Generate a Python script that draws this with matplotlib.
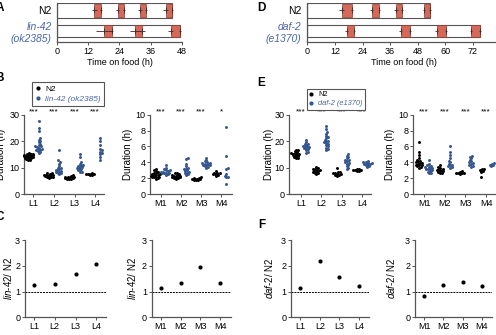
import numpy as np
import matplotlib
matplotlib.use('Agg')
import matplotlib.pyplot as plt
from matplotlib.patches import Rectangle
from matplotlib.lines import Line2D

plt.rcParams['font.family'] = ['Liberation Sans', 'DejaVu Sans']
plt.rcParams['mathtext.fontset'] = 'custom'
plt.rcParams['mathtext.rm'] = 'Liberation Sans'
plt.rcParams['mathtext.it'] = 'Liberation Sans:italic'

W, H = 496, 335
BLUE = '#34568f'
BLUE_TXT = '#4a68a8'
GREY = '#555555'
MOLT_FILL = '#d6685a'
MOLT_EDGE = '#8e3b30'

# ---- panel A / D: molt timing (start, end) in hours, with SD of start / end
a_rows = ['N2', 'lin-42\n(ok2385)']
a_n2_molts = [(14.3, 16.8), (23.3, 25.8), (31.9, 34.1), (41.8, 44.4)]
a_n2_sd = [(1.0, 0.3), (0.6, 0.3), (0.6, 0.4), (0.9, 0.2)]
a_mut_molts = [(18.1, 21.0), (30.0, 32.8), (43.8, 47.4)]
a_mut_sd = [(3.0, 0.4), (1.9, 1.1), (0.9, 0.3)]
a_xticks = [0, 12, 24, 36, 48]

d_rows = ['N2', 'daf-2\n(e1370)']
d_n2_molts = [(15.0, 19.3), (28.0, 31.3), (38.6, 41.3), (50.7, 53.4)]
d_n2_sd = [(1.1, 0.4), (0.7, 0.3), (0.8, 0.4), (0.5, 0.4)]
d_mut_molts = [(17.1, 20.4), (40.6, 44.6), (56.2, 60.2), (71.2, 75.1)]
d_mut_sd = [(0.7, 0.3), (0.6, 0.4), (0.7, 0.4), (0.5, 0.3)]
d_xticks = [0, 12, 24, 36, 48, 60, 72, 84]

larval = ['L1', 'L2', 'L3', 'L4']
molts = ['M1', 'M2', 'M3', 'M4']

# ---- panel B: durations (h)
b_larv_n2 = [
    [13.0, 13.5, 13.8, 14.0, 14.2, 14.5, 14.7, 15.0, 15.3, 15.5, 13.2, 13.7,
     14.1, 14.4, 14.8, 12.8, 14.3, 14.6, 15.1, 13.9],
    [6.5, 6.8, 7.0, 7.2, 7.5, 6.2, 6.6, 7.1, 7.8, 6.9, 7.3, 6.4, 7.0, 8.0, 6.7],
    [6.0, 6.2, 6.4, 5.8, 6.6, 5.9, 6.1, 6.3, 6.8, 5.6, 6.5, 6.0, 6.2, 7.0, 5.7],
    [7.2, 7.5, 7.8, 7.4, 7.6, 7.3, 7.7, 7.5],
]
b_larv_mut = [
    [27.5, 25.0, 24.0, 21.0, 20.5, 20.0, 19.5, 19.0, 18.5, 18.0, 17.8, 17.5,
     17.0, 16.8, 16.5, 16.2, 16.0, 15.5, 18.2, 17.2],
    [16.5, 12.8, 12.2, 11.5, 10.5, 10.0, 9.5, 9.2, 9.0, 8.8, 8.5, 8.2, 8.0,
     7.8, 7.5, 9.8],
    [15.0, 14.0, 12.0, 11.5, 11.0, 10.8, 10.5, 10.2, 10.0, 9.8, 9.5, 9.2, 9.0,
     8.5, 8.2, 10.7],
    [21.0, 20.0, 18.5, 17.0, 16.5, 16.0, 15.5, 15.0, 14.0, 12.7],
]
b_molt_n2 = [
    [3.2, 3.0, 2.8, 2.6, 2.5, 2.4, 2.3, 2.2, 2.1, 2.0, 1.9, 2.4, 2.7, 2.2, 2.5,
     2.3, 2.9, 2.1],
    [2.7, 2.5, 2.4, 2.3, 2.2, 2.1, 2.0, 1.9, 2.3, 2.2, 2.4, 2.1, 2.6, 2.0],
    [2.1, 2.0, 1.9, 1.85, 1.8, 1.75, 1.9, 2.0, 1.95, 1.8],
    [2.9, 2.7, 2.6, 2.5, 2.4, 2.3, 2.6, 2.5],
]
b_molt_mut = [
    [3.7, 3.3, 3.1, 3.0, 2.9, 2.8, 2.7, 2.6, 2.5, 2.4, 2.8, 2.6, 3.0, 2.7],
    [4.5, 4.4, 3.8, 3.5, 3.3, 3.1, 3.0, 2.9, 2.8, 2.6, 2.5, 2.4, 3.2, 2.7],
    [4.6, 4.3, 4.1, 4.0, 3.9, 3.8, 3.7, 3.6, 3.5, 3.4, 3.3, 3.8, 3.9, 3.6],
    [8.4, 4.8, 3.3, 3.2, 2.5, 2.3, 2.2, 2.1, 1.3],
]
b_larv_sig = ['***', '***', '***', '***']
b_molt_sig = ['***', '***', '***', '*']

# ---- panel E: durations (h)
e_larv_n2 = [
    [13.5, 14.0, 14.3, 14.6, 15.0, 15.3, 15.6, 16.0, 16.3, 16.8, 14.8, 15.2,
     14.5, 15.5, 13.8, 16.5],
    [10.2, 9.8, 9.5, 9.2, 9.0, 8.8, 8.5, 8.2, 8.0, 7.8, 7.5, 9.3, 8.7],
    [10.0, 8.5, 8.2, 7.8, 7.5, 7.2, 7.0, 6.8, 7.4, 7.9],
    [9.5, 9.2, 9.0, 8.8, 8.6, 9.3, 8.9],
]
e_larv_mut = [
    [20.5, 19.5, 19.0, 18.5, 18.2, 18.0, 17.8, 17.5, 17.2, 17.0, 16.5, 16.0,
     15.5, 18.8, 17.6],
    [25.8, 24.5, 23.5, 22.8, 22.0, 21.5, 21.0, 20.5, 20.0, 19.5, 19.0, 18.5,
     18.0, 17.5, 17.0, 16.5, 20.2, 19.2],
    [15.0, 14.5, 14.0, 13.5, 13.0, 12.5, 12.0, 11.8, 11.5, 11.0, 10.5, 10.0,
     9.5, 12.8],
    [12.5, 12.2, 12.0, 11.8, 11.5, 11.2, 11.0, 10.8, 10.5, 10.2, 11.6, 11.4],
]
e_molt_n2 = [
    [6.6, 5.3, 4.9, 4.5, 4.3, 4.1, 4.0, 3.9, 3.8, 3.7, 3.6, 3.5, 3.4, 3.3, 4.2,
     3.9, 3.6],
    [3.6, 3.4, 3.3, 3.2, 3.1, 3.0, 2.9, 2.8, 2.7, 2.6, 3.0, 2.9],
    [2.9, 2.8, 2.7, 2.6, 2.55, 2.7, 2.6],
    [3.2, 3.0, 2.9, 2.8, 3.1, 2.2],
]
e_molt_mut = [
    [4.3, 3.8, 3.6, 3.5, 3.4, 3.3, 3.2, 3.1, 3.0, 2.9, 2.8, 2.7, 2.6, 3.4, 3.2],
    [6.1, 5.3, 4.9, 4.5, 4.2, 4.0, 3.8, 3.6, 3.5, 3.4, 3.3, 3.7],
    [4.8, 4.7, 4.5, 4.3, 4.1, 4.0, 3.8, 3.6, 3.5, 3.4, 3.9],
    [3.9, 3.8, 3.7, 3.6, 3.5],
]
e_larv_sig = ['***', '***', '***', '***']
e_molt_sig = ['***', '***', '***', '***']

# ---- panel C / F: ratio mutant / N2
c_larv_ratio = [1.25, 1.30, 1.68, 2.08]
c_molt_ratio = [1.15, 1.35, 1.95, 1.35]
f_larv_ratio = [1.12, 2.17, 1.55, 1.22]
f_molt_ratio = [0.82, 1.27, 1.38, 1.22]

fig = plt.figure(figsize=(W / 100, H / 100), dpi=100)


def px_axes(l, t, r, b):
    return fig.add_axes([l / W, 1 - b / H, (r - l) / W, (b - t) / H])


def style(ax):
    for s in ('top', 'right'):
        ax.spines[s].set_visible(False)
    for s in ('left', 'bottom'):
        ax.spines[s].set_color(GREY)
        ax.spines[s].set_linewidth(0.9)
    ax.tick_params(length=2, width=0.7, color=GREY, labelsize=6.5, pad=1.5)


def timeline(box, xmax, xticks, rows, n2, n2_sd, mut, mut_sd):
    ax = px_axes(*box)
    ax.set_xlim(0, xmax)
    ax.set_ylim(0, 36.7)
    style(ax)
    ax.set_xticks(xticks)
    ax.tick_params(axis='y', length=0, pad=4)
    spans = [(22.7, 36.7, n2, n2_sd), (4.0, 16.0, mut, mut_sd)]
    for y0, y1, ms, sds in spans:
        end = ms[-1][1]
        ax.add_patch(Rectangle((0, y0), end, y1 - y0, fc='white',
                               ec=GREY, lw=0.8))
        mid = (y0 + y1) / 2
        for (s, e), (ss, se) in zip(ms, sds):
            ax.add_patch(Rectangle((s, y0 + 0.6), e - s, y1 - y0 - 1.2,
                                   fc=MOLT_FILL, ec=MOLT_EDGE, lw=0.5))
            ax.errorbar([s, e], [mid, mid], xerr=[ss, se], fmt='none',
                        ecolor='#3a2a28', elinewidth=0.6, capsize=0)
            ax.plot([s, e], [mid, mid], '|', color='#3a2a28', ms=4, mew=0.6)
    ax.set_yticks([29.7, 10.0])
    labs = ax.set_yticklabels(rows, fontsize=7.5, ha='right')
    labs[1].set_color(BLUE_TXT)
    labs[1].set_style('italic')
    ax.set_xlabel('Time on food (h)', fontsize=6.5, labelpad=2)
    return ax


timeline((57.3, 3, 181.7, 41.7), 48, a_xticks, a_rows,
         a_n2_molts, a_n2_sd, a_mut_molts, a_mut_sd)
timeline((307.3, 3, 500.5, 41.7), 84, d_xticks, d_rows,
         d_n2_molts, d_n2_sd, d_mut_molts, d_mut_sd)


def swarm(vals, ypx, d=1.9, cap=4.5):
    # simple beeswarm layout in pixel units, offsets capped at +-cap px
    vals = np.asarray(vals, dtype=float)
    offs = np.zeros(len(vals))
    placed = []
    cands = [0.0]
    for k in range(1, int(cap / 0.5) + 1):
        cands += [k * 0.5, -k * 0.5]
    for i in np.argsort(vals):
        y = vals[i] * ypx
        best, best_d = 0.0, -1.0
        for xo in cands:
            md = min([np.hypot(xo - px, y - py) for px, py in placed] + [99])
            if md >= d:
                best = xo
                break
            if md > best_d:
                best, best_d = xo, md
        placed.append((best, y))
        offs[i] = best
    return offs


def dot_panel(box, xlim, ymax, yticks, cats, n2, mut, sig, ylab_x):
    l, t, r, b = box
    ax = px_axes(*box)
    style(ax)
    ax.set_xlim(*xlim)
    ax.set_ylim(0, ymax)
    ax.set_yticks(yticks)
    ax.set_xticks(range(len(cats)))
    ax.set_xticklabels(cats)
    ypx = (b - t) / ymax
    xpx = (r - l) / (xlim[1] - xlim[0])
    for i in range(len(cats)):
        for vals, off, col in ((n2[i], -0.25, 'black'), (mut[i], 0.25, BLUE)):
            xo = swarm(vals, ypx) / xpx
            ax.scatter(i + off + xo, vals, s=4.5, color=col, lw=0,
                       clip_on=False, zorder=3)
        ax.text(i, 1 + (t - 112) / (b - t), sig[i], ha='center',
                va='center', fontsize=6, transform=ax.get_xaxis_transform())
    ax.set_ylabel('Duration (h)', fontsize=7)
    ax.yaxis.set_label_coords((ylab_x - l) / (r - l), 0.5)
    return ax


dot_panel((24.3, 114.7, 104.4, 194), (-0.44, 3.45), 30, [0, 10, 20, 30],
          larval, b_larv_n2, b_larv_mut, b_larv_sig, 6)
dot_panel((150.3, 114.7, 231.5, 194), (-0.52, 3.5), 10, [0, 2, 4, 6, 8, 10],
          molts, b_molt_n2, b_molt_mut, b_molt_sig, 133)
dot_panel((289.3, 114.7, 371.1, 194), (-0.58, 3.45), 30, [0, 10, 20, 30],
          larval, e_larv_n2, e_larv_mut, e_larv_sig, 274)
dot_panel((413.3, 114.7, 495.5, 194), (-0.52, 3.45), 10, [0, 2, 4, 6, 8, 10],
          molts, e_molt_n2, e_molt_mut, e_molt_sig, 395)


def ratio_panel(box, xlim, cats, ratio, gene, ylab_x):
    l, t, r, b = box
    ax = px_axes(*box)
    style(ax)
    ax.set_xlim(*xlim)
    ax.set_ylim(0, 3)
    ax.set_yticks([0, 1, 2, 3])
    ax.set_xticks(range(len(cats)))
    ax.set_xticklabels(cats)
    ax.axhline(1, color='black', lw=0.7, ls=(0, (2, 1)))
    ax.scatter(range(len(cats)), ratio, s=9, color='black', lw=0, zorder=3)
    a, bnum = gene.split('-')
    ax.set_ylabel(f'$\\mathit{{{a}}}$-$\\mathit{{{bnum}}}$/ N2', fontsize=7)
    ax.yaxis.set_label_coords((ylab_x - l) / (r - l), 0.5)
    return ax


ratio_panel((25, 240, 105.8, 317.3), (-0.42, 3.45), larval, c_larv_ratio,
            'lin-42', 14)
ratio_panel((151.7, 240, 230.9, 317.3), (-0.47, 3.55), molts, c_molt_ratio,
            'lin-42', 138)
ratio_panel((291, 240, 369, 317.3), (-0.46, 3.5), larval, f_larv_ratio,
            'daf-2', 275)
ratio_panel((415, 240, 491.6, 317.3), (-0.47, 3.5), molts, f_molt_ratio,
            'daf-2', 397)


def legend(x, y, mut_label, fs):
    handles = [Line2D([0], [0], marker='o', ls='none', color='black', ms=2),
               Line2D([0], [0], marker='o', ls='none', color=BLUE, ms=2)]
    lg = fig.legend(handles, ['N2', mut_label], loc='upper left',
                    bbox_to_anchor=(x / W, 1 - y / H), fontsize=fs,
                    handlelength=0.6, handletextpad=0.6, borderpad=0.35,
                    labelspacing=0.25, fancybox=False, framealpha=1)
    lg.get_frame().set_edgecolor(GREY)
    lg.get_frame().set_linewidth(0.8)
    lg.get_texts()[1].set_color(BLUE_TXT)
    lg.get_texts()[1].set_style('italic')


legend(28, 78, 'lin-42 (ok2385)', 6)
legend(303, 85, 'daf-2 (e1370)', 5.3)

for letter, x, y in (('A', 4, 8), ('B', 4, 78), ('C', 4, 217),
                     ('D', 266, 8), ('E', 265, 83), ('F', 265, 225)):
    fig.text(x / W, 1 - y / H, letter, ha='right', va='center',
             fontsize=8.5, weight='bold')

fig.savefig('out.png', dpi=100)
